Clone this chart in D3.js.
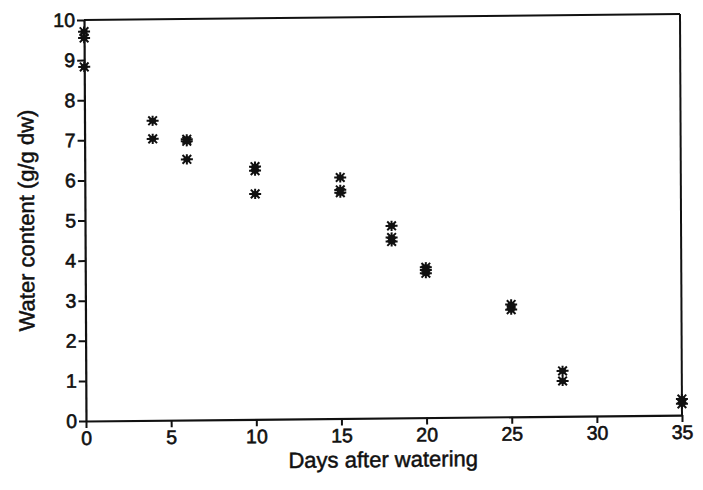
<!DOCTYPE html>
<html>
<head>
<meta charset="utf-8">
<script src="https://cdn.jsdelivr.net/npm/d3@7"></script>
<style>
  html, body { margin: 0; padding: 0; background: #fff; }
  svg { display: block; }
  text { font-family: "Liberation Sans", Arial, Helvetica, sans-serif; fill: #111; }
</style>
</head>
<body>
<svg id="chart" width="703" height="490"></svg>
<script>
// Data
const days = [0, 0, 0, 4, 4, 6, 6, 6, 10, 10, 10, 15, 15, 15, 18, 18, 18, 20, 20, 20, 25, 25, 28, 28, 35, 35];
const water = [9.71, 9.55, 8.83, 7.47, 7.02, 6.95, 7.0, 6.5, 6.2, 6.3, 5.62, 6.01, 5.63, 5.7, 4.79, 4.4, 4.5, 3.6, 3.75, 3.68, 2.67, 2.8, 1.13, 0.88, 0.4, 0.28];
const xTicks = [0, 5, 10, 15, 20, 25, 30, 35];
const yTicks = [0, 1, 2, 3, 4, 5, 6, 7, 8, 9, 10];
const xTitle = "Days after watering";
const yTitle = "Water content (g/g dw)";

const svg = d3.select("#chart");
const x0 = 86, x1 = 682, y0 = 421, y1 = 20;

const x = d3.scaleLinear().domain([0, 35]).range([x0, x1]);
const y = d3.scaleLinear().domain([0, 10]).range([y0, y1]);

// Slight skew like the scanned original
const g = svg.append("g")
  .attr("transform", `translate(${x0},${y0}) matrix(1,-0.01,0.005,1,0,0) translate(${-x0},${-y0})`);

// Frame (top and right)
g.append("line").attr("x1", x(0)).attr("x2", x(35)).attr("y1", y(10)).attr("y2", y(10))
  .attr("stroke", "#111").attr("stroke-width", 2);
g.append("line").attr("x1", x(35)).attr("x2", x(35)).attr("y1", y(10)).attr("y2", y(0))
  .attr("stroke", "#111").attr("stroke-width", 2);

// X axis
const xAxis = g.append("g").attr("transform", `translate(0,${y0})`)
  .call(d3.axisBottom(x).tickValues(xTicks).tickSize(7).tickPadding(3).tickSizeOuter(0));
xAxis.select(".domain").attr("stroke", "#111").attr("stroke-width", 2.2);
xAxis.selectAll(".tick line").attr("stroke", "#111").attr("stroke-width", 2);
xAxis.selectAll(".tick text").attr("font-size", 19.5).attr("fill", "#111")
  .attr("font-family", "Liberation Sans, Arial, sans-serif")
  .attr("stroke", "#111").attr("stroke-width", 0.6);

// Y axis
const yAxis = g.append("g").attr("transform", `translate(${x0},0)`)
  .call(d3.axisLeft(y).tickValues(yTicks).tickSize(7).tickPadding(2).tickSizeOuter(0));
yAxis.select(".domain").attr("stroke", "#111").attr("stroke-width", 2.2);
yAxis.selectAll(".tick line").attr("stroke", "#111").attr("stroke-width", 2);
yAxis.selectAll(".tick text").attr("font-size", 19.5).attr("fill", "#111")
  .attr("font-family", "Liberation Sans, Arial, sans-serif")
  .attr("stroke", "#111").attr("stroke-width", 0.6);

// Titles
g.append("text").attr("x", 383).attr("y", 470).attr("text-anchor", "middle")
  .attr("font-size", 22).attr("stroke", "#111").attr("stroke-width", 0.5).text(xTitle);
g.append("text").attr("transform", `translate(35,220) rotate(-90)`)
  .attr("text-anchor", "middle").attr("font-size", 22).attr("stroke", "#111").attr("stroke-width", 0.5)
  .text(yTitle);

// Asterisk markers
const r = 6;
const k = 0.72;
const star = `M${-r},0L${r},0M0,${-r*0.85}L0,${r*0.85}M${-r*k},${-r*k}L${r*k},${r*k}M${-r*k},${r*k}L${r*k},${-r*k}`;
const pts = g.append("g");
days.forEach((d, i) => {
  const m = pts.append("g").attr("transform", `translate(${x(d)},${y(water[i])})`);
  m.append("path").attr("d", star).attr("stroke", "#111").attr("stroke-width", 2).attr("fill", "none");
  m.append("ellipse").attr("rx", 3.6).attr("ry", 2.8).attr("fill", "#111");
});
</script>
</body>
</html>
